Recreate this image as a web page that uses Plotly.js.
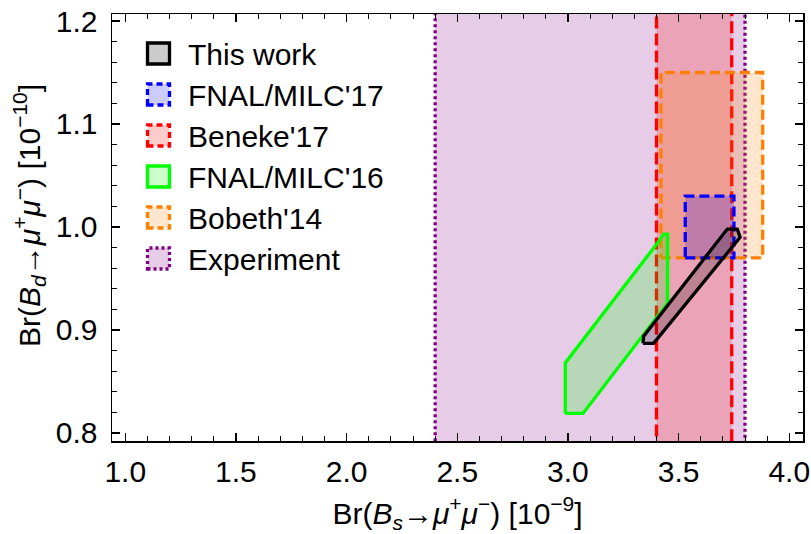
<!DOCTYPE html>
<html><head><meta charset="utf-8">
<script src="https://cdn.plot.ly/plotly-3.0.1.min.js"></script>
<style>html,body{margin:0;padding:0;background:#fff}</style>
</head><body><div id="chart" style="width:811px;height:534px"></div>
<script>
// ---- data (Bs in 1e-9, Bd in 1e-10) ----
const legendNames = ["This work", "FNAL/MILC'17", "Beneke'17", "FNAL/MILC'16", "Bobeth'14", "Experiment"];
const experimentBs = [2.40, 3.80];
const experimentBd = [0.70, 1.30];
const beneke17Bs = [3.40, 3.74];
const beneke17Bd = [0.70, 1.30];
const bobeth14Bs = [3.42, 3.88];
const bobeth14Bd = [0.97, 1.15];
const fnal17Bs = [3.53, 3.75];
const fnal17Bd = [0.97, 1.03];
const fnal16Bs = [2.988, 2.988, 3.410, 3.432, 3.450, 3.450, 3.068, 2.988];
const fnal16Bd = [0.819, 0.868, 0.986, 0.993, 0.993, 0.926, 0.819, 0.819];
const thisWorkBs = [3.339, 3.342, 3.720, 3.765, 3.778, 3.387, 3.339];
const thisWorkBd = [0.887, 0.894, 0.998, 0.998, 0.990, 0.887, 0.887];
const xTickVals = [1.0, 1.5, 2.0, 2.5, 3.0, 3.5, 4.0];
const yTickVals = [0.8, 0.9, 1.0, 1.1, 1.2];
const xTitle = "Br(<i>B</i><sub><i>s</i></sub>→<i>μ</i><sup>+</sup><i>μ</i><sup>−</sup>) [10<sup>−9</sup>]";
const yTitle = "Br(<i>B</i><sub><i>d</i></sub>→<i>μ</i><sup>+</sup><i>μ</i><sup>−</sup>) [10<sup>−10</sup>]";

// ---- styles ----
const styles = {
  "This work":    {line: "#000000", fill: "rgba(0,0,0,0.2)",       dash: "solid"},
  "FNAL/MILC'17": {line: "#0000ff", fill: "rgba(0,0,255,0.2)",     dash: "10px,5px"},
  "Beneke'17":    {line: "#ff0000", fill: "rgba(255,0,0,0.2)",     dash: "12px,5px"},
  "FNAL/MILC'16": {line: "#00ff00", fill: "rgba(0,255,0,0.2)",     dash: "solid"},
  "Bobeth'14":    {line: "#ff8000", fill: "rgba(255,128,0,0.2)",   dash: "10px,5px"},
  "Experiment":   {line: "#800080", fill: "rgba(128,0,128,0.2)",   dash: "3px,3px"}
};
const FONT = "Arial, 'Liberation Sans', sans-serif";

function rectX(r) { return [r[0], r[1], r[1], r[0], r[0]]; }
function rectY(r) { return [r[0], r[0], r[1], r[1], r[0]]; }
function poly(name, xs, ys) {
  const s = styles[name];
  return {type: "scatter", mode: "lines", x: xs, y: ys, fill: "toself",
    fillcolor: s.fill, line: {color: s.line, width: 3.3, dash: s.dash},
    name: name, showlegend: false, hoverinfo: "skip"};
}

const traces = [
  poly("Experiment", rectX(experimentBs), rectY(experimentBd)),
  poly("Beneke'17", rectX(beneke17Bs), rectY(beneke17Bd)),
  poly("Bobeth'14", rectX(bobeth14Bs), rectY(bobeth14Bd)),
  poly("FNAL/MILC'17", rectX(fnal17Bs), rectY(fnal17Bd)),
  poly("FNAL/MILC'16", fnal16Bs, fnal16Bd),
  poly("This work", thisWorkBs, thisWorkBd)
];

// ---- manual legend (paper coordinates) ----
const W = 811, H = 534, ML = 112, MR = 8, MT = 14, MB = 93;
const pw = W - ML - MR, ph = H - MT - MB;
const px2x = p => (p - ML) / pw;
const py2y = p => (H - MB - p) / ph;
const shapes = [], annotations = [];
const rowY0 = 53.5, rowStep = 41;
legendNames.forEach((n, i) => {
  const cy = rowY0 + i * rowStep;
  const s = styles[n];
  shapes.push({type: "rect", xref: "paper", yref: "paper",
    x0: px2x(147.5), x1: px2x(169.5), y0: py2y(cy + 10.5), y1: py2y(cy - 10.5),
    line: {color: s.line, width: 3.3, dash: s.dash === "solid" ? "solid" : (n === "Experiment" ? "3px,3px" : "6px,4px")},
    fillcolor: s.fill});
  annotations.push({xref: "paper", yref: "paper", x: px2x(186), y: py2y(cy + 1),
    xanchor: "left", yanchor: "middle", showarrow: false, text: n,
    font: {family: FONT, size: 30, color: "#000"}});
});
// y-axis title placed like the reference (slightly above plot centre)
annotations.push({xref: "paper", yref: "paper", x: px2x(29), y: py2y(216),
  xanchor: "center", yanchor: "middle", textangle: -90, showarrow: false, text: yTitle,
  font: {family: FONT, size: 30, color: "#000"}});

const axisCommon = {
  showgrid: false, zeroline: false, showline: true, linecolor: "#000", linewidth: 1.5,
  mirror: "ticks", ticks: "inside", ticklen: 8, tickwidth: 1.3, tickcolor: "#000",
  tickfont: {family: FONT, size: 30, color: "#000"}, automargin: false
};

const layout = {
  width: W, height: H,
  margin: {l: ML, r: MR, t: MT, b: MB},
  paper_bgcolor: "#fff", plot_bgcolor: "#fff",
  showlegend: false,
  xaxis: Object.assign({}, axisCommon, {
    range: [0.94, 4.062], tickvals: xTickVals, ticktext: xTickVals.map(v => v.toFixed(1)),
    minor: {dtick: 0.1, tick0: 1.0, ticks: "inside", ticklen: 5, tickwidth: 1, tickcolor: "#000"},
    ticklabelstandoff: 3,
    title: {text: xTitle, font: {family: FONT, size: 30, color: "#000"}, standoff: 17}
  }),
  yaxis: Object.assign({}, axisCommon, {
    range: [0.7922, 1.2068], tickvals: yTickVals, ticktext: yTickVals.map(v => v.toFixed(1)),
    minor: {dtick: 0.02, tick0: 0.8, ticks: "inside", ticklen: 5, tickwidth: 1, tickcolor: "#000"},
    ticklabelstandoff: 7
  }),
  shapes: shapes,
  annotations: annotations
};

Plotly.newPlot("chart", traces, layout, {staticPlot: true, displayModeBar: false});
</script>
</body></html>
